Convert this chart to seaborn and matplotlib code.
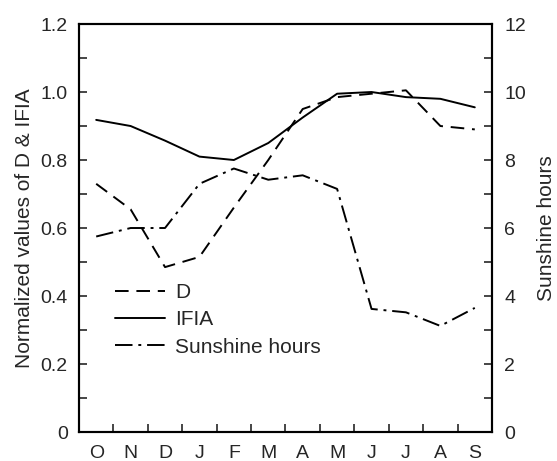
import matplotlib
matplotlib.use("Agg")
import matplotlib.pyplot as plt
import numpy as np
import pandas as pd
import seaborn as sns
from matplotlib.ticker import FixedLocator, FuncFormatter, MultipleLocator

months = ["O", "N", "D", "J", "F", "M", "A", "M", "J", "J", "A", "S"]
d_values = [0.73, 0.655, 0.485, 0.515, 0.66, 0.80, 0.95, 0.985, 0.995, 1.005, 0.90, 0.89]
ifia_values = [0.918, 0.900, 0.857, 0.810, 0.800, 0.850, 0.925, 0.995, 1.000, 0.985, 0.980, 0.955]
sunshine_values = [5.75, 6.0, 6.0, 7.3, 7.75, 7.42, 7.55, 7.15, 3.62, 3.52, 3.12, 3.65]

sns.set_style("ticks")
plt.rcParams["font.family"] = ["Liberation Sans", "DejaVu Sans"]

df = pd.DataFrame({
    "pos": np.arange(len(months)),
    "D": d_values,
    "IFIA": ifia_values,
    "Sunshine hours": sunshine_values,
})

fig = plt.figure(figsize=(5.57, 4.61), dpi=100)
ax = fig.add_axes([0.1418, 0.0629, 0.7415, 0.885])
ax2 = ax.twinx()

sns.lineplot(data=df, x="pos", y="D", ax=ax, color="black", lw=1.4, label="D")
sns.lineplot(data=df, x="pos", y="IFIA", ax=ax, color="black", lw=1.4, label="IFIA")
sns.lineplot(data=df, x="pos", y="Sunshine hours", ax=ax2, color="black", lw=1.4,
             label="Sunshine hours")
ax.lines[0].set_dashes([7, 4])
ax2.lines[0].set_dashes([9, 3, 1.5, 3])

ax.set_xlim(-0.5, len(months) - 0.5)
ax.set_ylim(0, 1.2)
ax2.set_ylim(0, 12)

ax.xaxis.set_major_locator(FixedLocator(df["pos"]))
ax.set_xticklabels(months)
ax.xaxis.set_minor_locator(FixedLocator(df["pos"][:-1] + 0.5))
ax.tick_params(axis="x", which="major", length=0, pad=9, labelsize=14)
ax.tick_params(axis="x", which="minor", direction="in", length=6, width=1.2)

ax.yaxis.set_major_locator(MultipleLocator(0.2))
ax.yaxis.set_minor_locator(MultipleLocator(0.1))
ax.yaxis.set_major_formatter(FuncFormatter(lambda v, p: "0" if abs(v) < 1e-9 else f"{v:.1f}"))
ax.tick_params(axis="y", which="both", direction="in", length=6, width=1.2,
               labelsize=14, pad=8)

ax2.yaxis.set_major_locator(MultipleLocator(2))
ax2.yaxis.set_minor_locator(MultipleLocator(1))
ax2.tick_params(axis="y", which="both", direction="in", length=6, width=1.2,
                labelsize=14, pad=9)

for a in (ax, ax2):
    for s in a.spines.values():
        s.set_visible(True)
        s.set_linewidth(1.5)
        s.set_color("black")

ax.set_xlabel("")
ax.set_ylabel("Normalized values of D & IFIA", fontsize=15, labelpad=5)
ax2.set_ylabel("Sunshine hours", fontsize=15, labelpad=8)

handles = ax.get_lines()[:2] + ax2.get_lines()[:1]
if ax2.get_legend() is not None:
    ax2.get_legend().remove()
ax.legend(handles, ["D", "IFIA", "Sunshine hours"], loc="center left",
          bbox_to_anchor=(0.087, 0.275), frameon=False, fontsize=15,
          handlelength=2.4, handletextpad=0.5, labelspacing=0.4,
          borderpad=0, borderaxespad=0)

fig.savefig("out.png", dpi=100)
